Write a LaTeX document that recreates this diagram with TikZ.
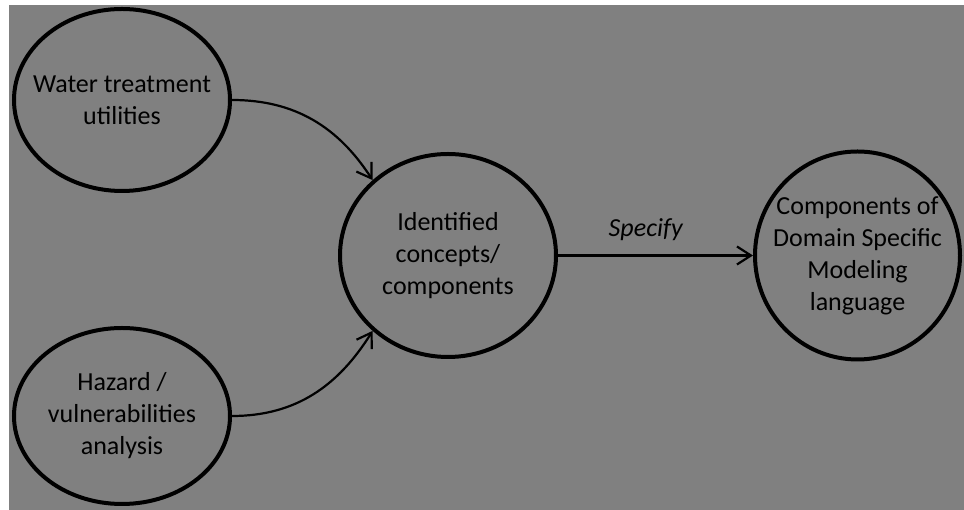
\documentclass[tikz,border=0pt]{standalone}
\usepackage{fontspec}
\setmainfont{Carlito}
\usepackage{tikz}
\usetikzlibrary{shapes,arrows.meta}
\definecolor{backcolor}{RGB}{128,128,128}

\begin{document}
\begin{tikzpicture}[
	x=1pt, y=1pt,
	source/.style={
		ellipse,
		draw,
		line width=4pt,
		inner xsep=-25pt,
		inner ysep=0pt,
		minimum width=216pt,
		minimum height=182pt,
		align=center,
		font=\fontsize{26}{32}\selectfont},
	concept/.style={
		ellipse,
		draw,
		line width=4pt,
		inner xsep=-15pt,
		inner ysep=0pt,
		minimum width=216pt,
		minimum height=203pt,
		align=center,
		font=\fontsize{26}{32}\selectfont},
	line/.style={
	draw,
	line width=2.2pt,
	-{Straight Barb[length=14pt,width=18pt]},
	font=\itshape\fontsize{26}{32}\selectfont}]

    % Canvas
    \useasboundingbox (0,0) rectangle (964,510);
    \fill[backcolor] (9,0) rectangle (964,505);
    % Place nodes
    \node [source] (water) at (122,410) {Water treatment\\utilities};
    \node [source, below of=water, node distance=316pt, minimum height=176pt] (hazard) {Hazard /\\vulnerabilities\\analysis};
    \node [concept] (identified) at (448,254.5) {Identified\\concepts/\\components};
    \node [concept, right of=identified, node distance=409.5pt, minimum width=205pt, minimum height=208pt] (dsml) {Components of\\Domain Specific\\Modeling\\language};
    % Draw edges
    \path [line] (water.east) to[out=0, in=123] (identified.135);
    \path [line] (hazard.east) to[out=0, in=-122] (identified.225);
    \path [line] (identified.east) -- node[above=10pt, pos=0.45] {Specify} (dsml.west);
\end{tikzpicture}
\end{document}
